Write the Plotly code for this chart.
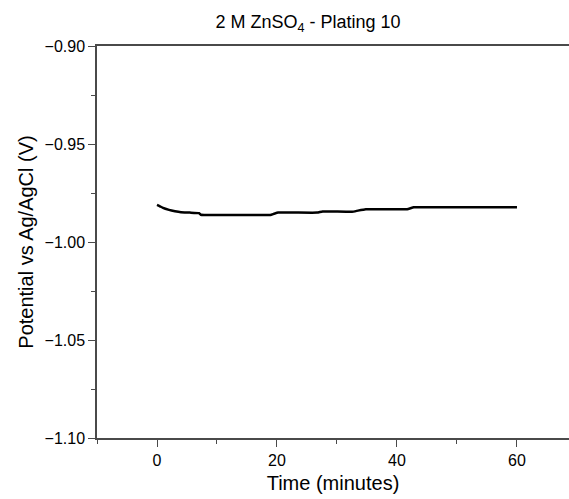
import plotly.graph_objects as go

time_min = [0, 0.5, 1, 2, 3, 4, 5.5, 7, 7.3, 12, 18.9, 19.5, 20.2, 26.7, 27.6, 32.5, 33.5, 34.8, 41.7, 42.8, 50, 60]
potential_v = [-0.9811, -0.9818, -0.9826, -0.9836, -0.9843, -0.9848, -0.9850, -0.9853, -0.9861, -0.9862, -0.9862, -0.9856, -0.9850, -0.9850, -0.9844, -0.9846, -0.9840, -0.9833, -0.9833, -0.9823, -0.9823, -0.9823]

x_range = [-10, 68.67]
y_range = [-1.10, -0.90]
x_ticks = [0, 20, 40, 60]
y_ticks = [-1.10, -1.05, -1.00, -0.95, -0.90]

fig = go.Figure()
fig.add_trace(go.Scatter(x=time_min, y=potential_v, mode="lines",
                         line=dict(color="black", width=2.5, shape="spline", smoothing=0.3),
                         showlegend=False))

font_family = "Arial, Liberation Sans, sans-serif"
axis_color = "#4a4a4a"

fig.update_layout(
    width=569, height=499,
    margin=dict(l=97, r=0, t=46, b=61),
    paper_bgcolor="white", plot_bgcolor="white",
    font=dict(family=font_family, color="black"),
    title=dict(text="2 M ZnSO<sub>4</sub> - Plating 10", x=308/569, xanchor="center",
               xref="container", yref="container", y=1 - 22/499, yanchor="middle",
               font=dict(size=18, family=font_family, color="black")),
)
fig.update_xaxes(
    range=x_range, tickvals=x_ticks, ticks="outside", ticklen=7, tickwidth=1.3, tickcolor=axis_color,
    showline=True, linecolor=axis_color, linewidth=1.5, mirror=True, showgrid=False, zeroline=False,
    tickfont=dict(size=16, color="black"),
    title=dict(text="Time (minutes)", font=dict(size=20, color="black"), standoff=8),
    minor=dict(dtick=10, tick0=0, ticks="outside", ticklen=4, tickwidth=1.2, tickcolor=axis_color, showgrid=False),
)
fig.update_yaxes(
    range=y_range, tickvals=y_ticks, tickformat=".2f", ticks="outside", ticklen=7, tickwidth=1.3,
    tickcolor=axis_color, showline=True, linecolor=axis_color, linewidth=1.5, mirror=False,
    showgrid=False, zeroline=False,
    tickfont=dict(size=16, color="black"),
    title=dict(text="Potential vs Ag/AgCl (V)", font=dict(size=20, color="black"), standoff=6),
    minor=dict(dtick=0.025, tick0=-0.9, ticks="outside", ticklen=4, tickwidth=1.2, tickcolor=axis_color, showgrid=False),
)

fig.write_html("out.html")
